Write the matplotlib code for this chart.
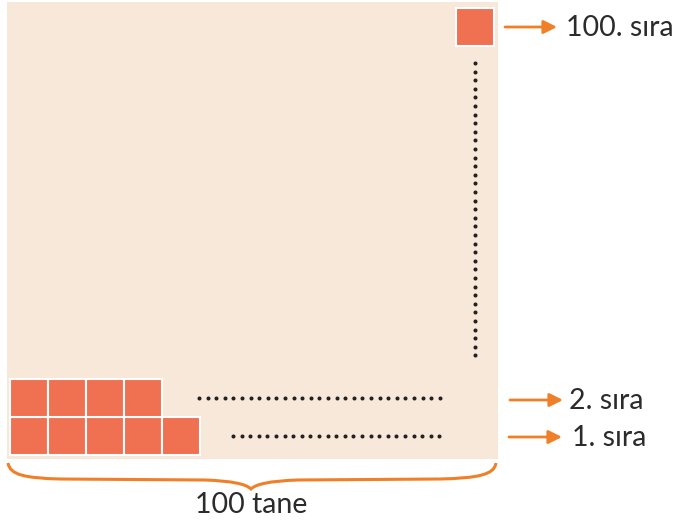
import numpy as np
import matplotlib.pyplot as plt
from matplotlib.patches import Rectangle, FancyArrowPatch
from matplotlib.path import Path
from matplotlib.patches import PathPatch

# data
row_counts = [5, 4]          # squares drawn in row 1 and row 2
row_labels = ['1. sıra', '2. sıra', '100. sıra']
total_label = '100 tane'

bg_color = '#f8e8da'
sq_color = '#f07052'
arrow_color = '#f07f28'
text_color = '#2b2b2b'

fig = plt.figure(figsize=(6.9, 5.25), dpi=100)
ax = fig.add_axes([0, 0, 1, 1])
ax.set_xlim(0, 690)
ax.set_ylim(525, 0)
ax.axis('off')

# background panel
ax.add_patch(Rectangle((7, 2), 491, 457, facecolor=bg_color, edgecolor='none'))

cell = 38
x0 = 10
y_bottom = 455
for r, n in enumerate(row_counts):
    for c in range(n):
        ax.add_patch(Rectangle((x0 + c * cell, y_bottom - (r + 1) * cell), cell, cell,
                               facecolor=sq_color, edgecolor='white', lw=1.5))
# top square (row 100)
ax.add_patch(Rectangle((456, 8), cell, cell, facecolor=sq_color, edgecolor='white', lw=1.5))

# dotted lines
step = 8.6
dot_x1 = np.arange(233, 446, step)
ax.plot(dot_x1, np.full_like(dot_x1, 436), 'o', color='#222222', ms=1.9)
dot_x2 = np.arange(199, 446, step)
ax.plot(dot_x2, np.full_like(dot_x2, 398), 'o', color='#222222', ms=1.9)
dot_y = np.arange(63, 360, step)
ax.plot(np.full_like(dot_y, 475), dot_y, 'o', color='#222222', ms=1.9)

# arrows with labels
arrow_rows = [(509, 562, 437, 572), (510, 563, 400, 569), (505, 557, 27, 566)]
for (xs, xe, y, xt), lab in zip(arrow_rows, row_labels):
    ax.add_patch(FancyArrowPatch((xs, y), (xe, y), arrowstyle='-|>,head_length=8,head_width=4',
                                 color=arrow_color, lw=2, mutation_scale=1, shrinkA=0, shrinkB=0))
    ax.text(xt, y + 1, lab, fontsize=20.5, color=text_color, va='center', ha='left',
            family='Lato')

# curly brace under the panel
verts = [(8, 463), (10, 475), (25, 478), (60, 479),
         (205, 480),
         (232, 481), (246, 484), (251, 489),
         (256, 484), (270, 481), (298, 480),
         (440, 479),
         (478, 478), (494, 475), (496, 463)]
codes = [Path.MOVETO, Path.CURVE4, Path.CURVE4, Path.CURVE4,
         Path.LINETO,
         Path.CURVE4, Path.CURVE4, Path.CURVE4,
         Path.CURVE4, Path.CURVE4, Path.CURVE4,
         Path.LINETO,
         Path.CURVE4, Path.CURVE4, Path.CURVE4]
ax.add_patch(PathPatch(Path(verts, codes), facecolor='none', edgecolor=arrow_color, lw=2.2))
ax.text(251, 505, total_label, fontsize=20.5, color=text_color, ha='center', va='center', family='Lato')

fig.savefig('out.png', dpi=100, facecolor='white')
